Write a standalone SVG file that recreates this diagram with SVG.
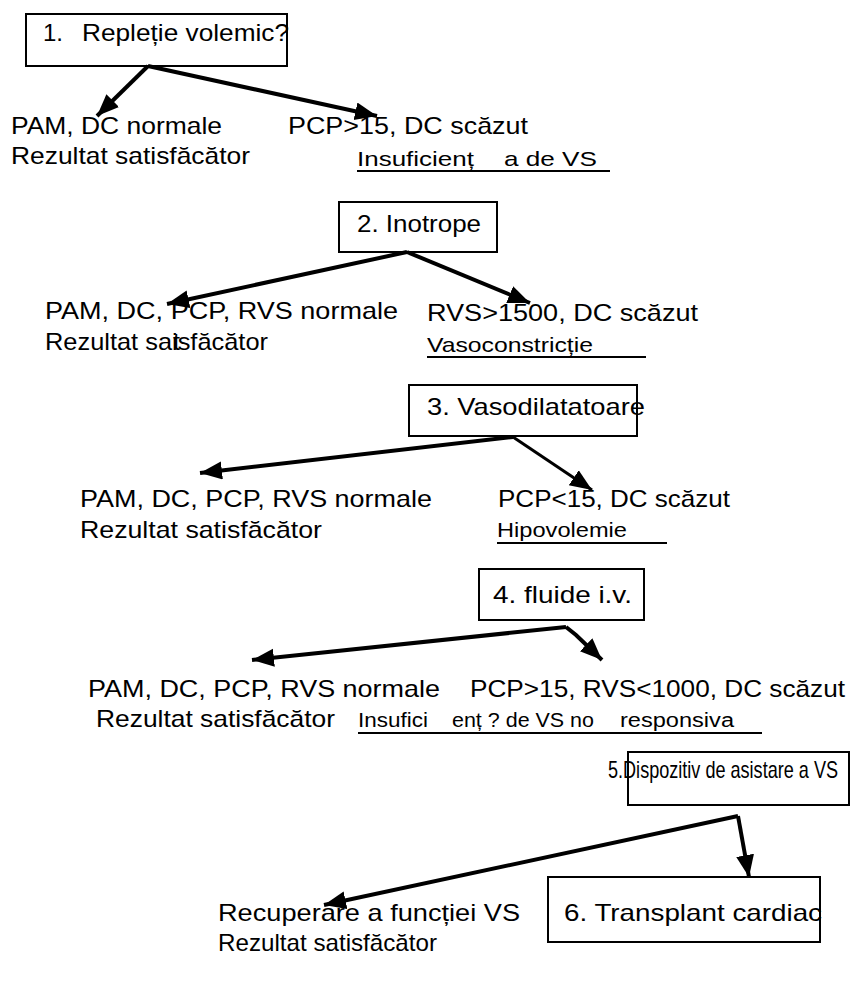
<svg xmlns="http://www.w3.org/2000/svg" width="851" height="1001" viewBox="0 0 851 1001">
<style>
.t{font-family:"Liberation Sans",Arial,sans-serif;font-size:24px;fill:#000}
.s{font-size:21px}
.n{font-size:20px}
.box{fill:none;stroke:#000;stroke-width:2}
.c{stroke:#000;stroke-width:4;fill:none;marker-end:url(#ah)}
.ul{stroke:#000;stroke-width:2}
</style>
<defs>
<marker id="ah" markerUnits="userSpaceOnUse" markerWidth="24" markerHeight="20" refX="22" refY="9" orient="auto"><path d="M0,0 L22,9 L0,18 z" fill="#000"/></marker>
</defs>
<rect width="851" height="1001" fill="#fff"/>
<g id="connectors">
<line class="c" x1="148" y1="66" x2="97" y2="116"/>
<line class="c" x1="148" y1="66" x2="377" y2="116"/>
<line class="c" x1="407" y1="252" x2="167" y2="304"/>
<line class="c" x1="407" y1="252" x2="530" y2="303"/>
<line class="c" x1="513" y1="437" x2="200" y2="473"/>
<line class="c" x1="513" y1="437" x2="592" y2="490" style="stroke-width:3"/>
<line class="c" x1="566" y1="627" x2="252" y2="660"/>
<polyline class="c" points="566,627 576,635 602,660"/>
<line class="c" x1="738" y1="816" x2="324" y2="905"/>
<line class="c" x1="738" y1="816" x2="749" y2="877"/>
</g>
<g id="n1">
<rect class="box" x="26" y="14" width="261" height="52"/>
<text class="t" x="43" y="41">1.</text>
<text class="t" x="82" y="41" textLength="207" lengthAdjust="spacingAndGlyphs">Repleție volemic?</text>
</g>
<g id="n1a">
<text class="t" x="11" y="134" textLength="211" lengthAdjust="spacingAndGlyphs">PAM, DC normale</text>
<text class="t" x="11" y="164" textLength="239" lengthAdjust="spacingAndGlyphs">Rezultat satisfăcător</text>
</g>
<g id="n1b">
<text class="t" x="288" y="134" textLength="240" lengthAdjust="spacingAndGlyphs">PCP&gt;15, DC scăzut</text>
<text class="t s" x="357" y="166" textLength="117" lengthAdjust="spacingAndGlyphs">Insuficienț</text>
<text class="t s" x="504" y="166" textLength="93" lengthAdjust="spacingAndGlyphs">a de VS</text>
<line class="ul" x1="357" y1="171" x2="610" y2="171"/>
</g>
<g id="n2">
<rect class="box" x="339" y="202" width="158" height="50"/>
<text class="t" x="357" y="232" textLength="124" lengthAdjust="spacingAndGlyphs">2. Inotrope</text>
</g>
<g id="n2a">
<text class="t" x="45" y="319" textLength="353" lengthAdjust="spacingAndGlyphs">PAM, DC, PCP, RVS normale</text>
<text class="t" x="45" y="350" textLength="223" lengthAdjust="spacingAndGlyphs">Rezultat saisfăcător</text>
<text class="t" x="173" y="350" textLength="7" lengthAdjust="spacingAndGlyphs">t</text>
</g>
<g id="n2b">
<text class="t" x="427" y="321" textLength="271" lengthAdjust="spacingAndGlyphs">RVS&gt;1500, DC scăzut</text>
<text class="t s" x="427" y="352" textLength="166" lengthAdjust="spacingAndGlyphs">Vasoconstricție</text>
<line class="ul" x1="427" y1="357" x2="646" y2="357"/>
</g>
<g id="n3">
<rect class="box" x="409" y="385" width="228" height="51"/>
<text class="t" x="427" y="415" textLength="218" lengthAdjust="spacingAndGlyphs">3. Vasodilatatoare</text>
</g>
<g id="n3a">
<text class="t" x="80" y="507" textLength="352" lengthAdjust="spacingAndGlyphs">PAM, DC, PCP, RVS normale</text>
<text class="t" x="80" y="538" textLength="242" lengthAdjust="spacingAndGlyphs">Rezultat satisfăcător</text>
</g>
<g id="n3b">
<text class="t" x="498" y="507" textLength="232" lengthAdjust="spacingAndGlyphs">PCP&lt;15, DC scăzut</text>
<text class="t s" x="497" y="537" textLength="130" lengthAdjust="spacingAndGlyphs">Hipovolemie</text>
<line class="ul" x1="497" y1="543" x2="667" y2="543"/>
</g>
<g id="n4">
<rect class="box" x="479" y="569" width="165" height="51"/>
<text class="t" x="493" y="603" textLength="139" lengthAdjust="spacingAndGlyphs">4. fluide i.v.</text>
</g>
<g id="n4a">
<text class="t" x="88" y="697" textLength="352" lengthAdjust="spacingAndGlyphs">PAM, DC, PCP, RVS normale</text>
<text class="t" x="96" y="727" textLength="239" lengthAdjust="spacingAndGlyphs">Rezultat satisfăcător</text>
</g>
<g id="n4b">
<text class="t" x="470" y="697" textLength="375" lengthAdjust="spacingAndGlyphs">PCP&gt;15, RVS&lt;1000, DC scăzut</text>
<text class="t n" x="358" y="727" textLength="70" lengthAdjust="spacingAndGlyphs">Insufici</text>
<text class="t n" x="452" y="727" textLength="142" lengthAdjust="spacingAndGlyphs">enț ? de VS no</text>
<text class="t n" x="620" y="727" textLength="114" lengthAdjust="spacingAndGlyphs">responsiva</text>
<line class="ul" x1="358" y1="733" x2="762" y2="733"/>
</g>
<g id="n5">
<rect class="box" x="628" y="752" width="221" height="53"/>
<text class="t" x="608" y="778" textLength="230" lengthAdjust="spacingAndGlyphs">5.Dispozitiv de asistare a VS</text>
</g>
<g id="n5a">
<text class="t" x="218" y="921" textLength="302" lengthAdjust="spacingAndGlyphs">Recuperare a funcției VS</text>
<text class="t" x="218" y="951" textLength="219" lengthAdjust="spacingAndGlyphs">Rezultat satisfăcător</text>
</g>
<g id="n6">
<rect class="box" x="548" y="877" width="272" height="65"/>
<text class="t" x="564" y="921" textLength="258" lengthAdjust="spacingAndGlyphs">6. Transplant cardiac</text>
</g>
</svg>
